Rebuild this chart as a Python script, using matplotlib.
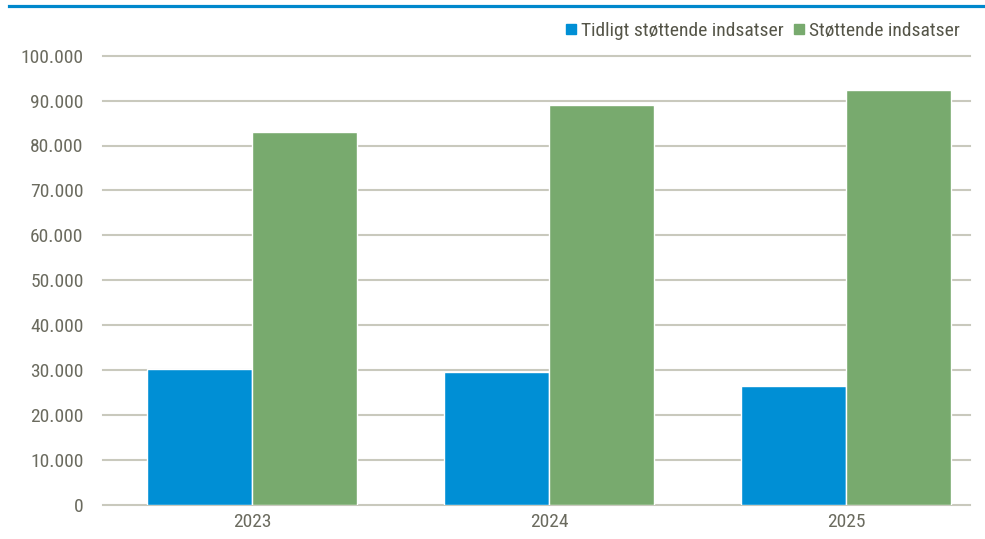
import matplotlib
matplotlib.use("Agg")
import matplotlib.pyplot as plt
from matplotlib import font_manager
from matplotlib.lines import Line2D
import numpy as np

years = ["2023", "2024", "2025"]
series_names = ["Tidligt støttende indsatser", "Støttende indsatser"]
tidligt = [30150, 29600, 26450]
stottende = [82950, 89000, 92350]
yticks = [0, 10000, 20000, 30000, 40000, 50000, 60000, 70000, 80000, 90000, 100000]
ytick_labels = ["0", "10.000", "20.000", "30.000", "40.000", "50.000", "60.000",
                "70.000", "80.000", "90.000", "100.000"]

avail = {f.name for f in font_manager.fontManager.ttflist}
fam = None
for cand in ["Liberation Sans Narrow", "Arial Narrow", "Roboto Condensed", "DejaVu Sans Condensed", "Liberation Sans"]:
    if cand in avail:
        fam = cand
        break
if fam:
    plt.rcParams["font.family"] = [fam, "DejaVu Sans"]

txt = "#6b6b5f"
blue = "#008fd5"
green = "#78aa6e"
grid = "#c9c9bd"

W, H = 985, 539
fig = plt.figure(figsize=(W / 100, H / 100), dpi=100)
left, right = 103, 970
bottom, top = 504.7, 55.7
ax = fig.add_axes([left / W, (H - bottom) / H, (right - left) / W, (bottom - top) / H])

x = np.arange(len(years))
bw = 0.355
ax.bar(x - bw / 2, tidligt, width=bw, color=blue, edgecolor="white", linewidth=1.0, zorder=3,
       label=series_names[0])
ax.bar(x + bw / 2, stottende, width=bw, color=green, edgecolor="white", linewidth=1.0, zorder=3,
       label=series_names[1])

c0, sp = 252, 297
ax.set_xlim((left - c0) / sp, (right - c0) / sp)
ax.set_ylim(0, 100000)
ax.set_yticks(yticks)
ax.set_yticklabels(ytick_labels)
ax.set_xticks(x)
ax.set_xticklabels(years)
ax.tick_params(axis="both", length=0, labelsize=14, colors=txt)
ax.tick_params(axis="y", pad=14)
ax.tick_params(axis="x", pad=6)
ax.yaxis.grid(True, color=grid, linewidth=1.5, zorder=0)
for gl in ax.get_ygridlines():
    gl.set_clip_on(False)
for s in ax.spines.values():
    s.set_visible(False)

handles = [Line2D([], [], marker="s", linestyle="none", markersize=7, color=blue),
           Line2D([], [], marker="s", linestyle="none", markersize=7, color=green)]
leg = fig.legend(handles, series_names, loc="center right", bbox_to_anchor=(960 / W, 1 - 31 / H),
                 ncol=2, frameon=False, fontsize=14, handlelength=0.6, handletextpad=0.2,
                 columnspacing=0.5, borderaxespad=0, borderpad=0)
for t in leg.get_texts():
    t.set_color("#555548")

fig.add_artist(Line2D([9 / W, 1], [1 - 6 / H, 1 - 6 / H], color="#0088cc", linewidth=2.3,
                      transform=fig.transFigure))

fig.savefig("out.png", dpi=100)
